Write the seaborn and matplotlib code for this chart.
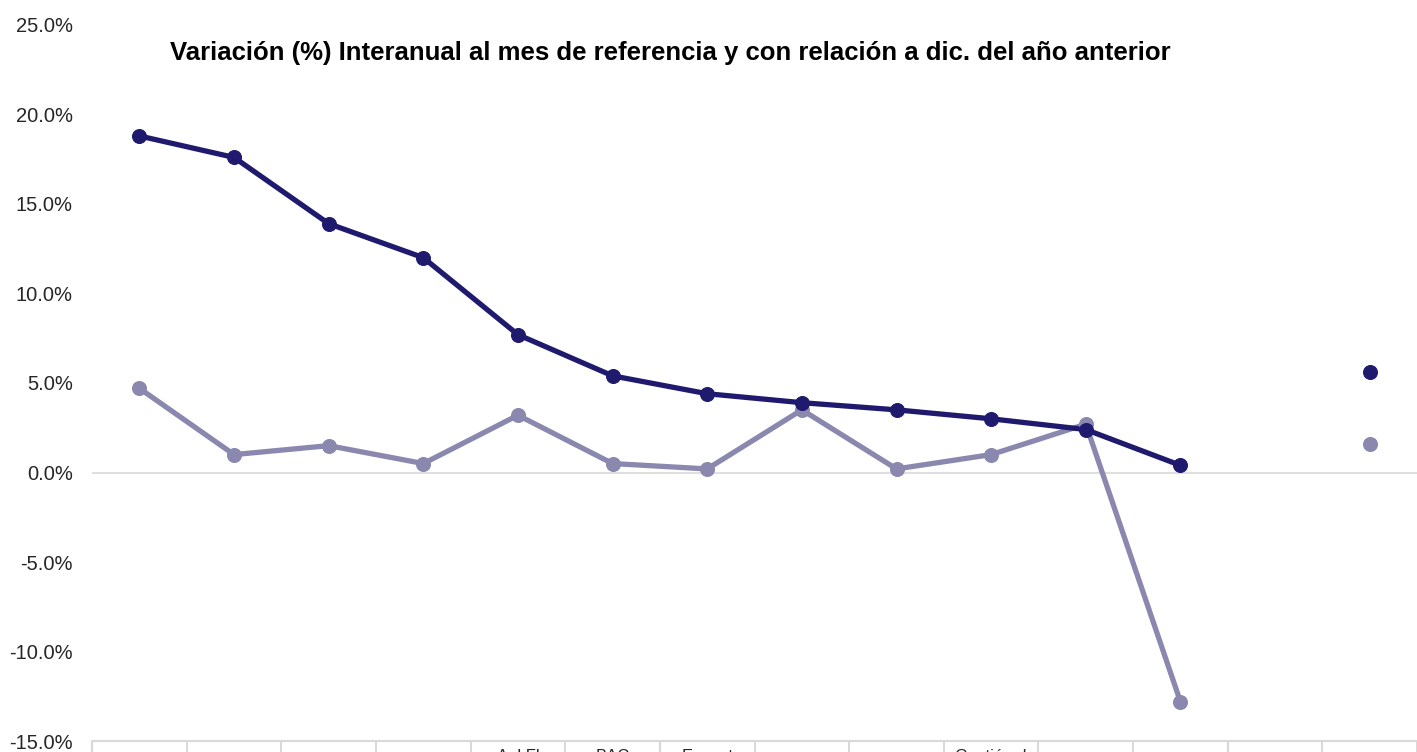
import numpy as np
import pandas as pd
import matplotlib
matplotlib.use("Agg")
import matplotlib.pyplot as plt
import seaborn as sns

# Data (values in %)
categories = ["", "", "", "", "Apl Fl", "BAC", "Ecopet", "", "", "Gestión d", "", "", "", ""]
interanual = [18.8, 17.6, 13.9, 12.0, 7.7, 5.4, 4.4, 3.9, 3.5, 3.0, 2.4, 0.4, np.nan, 5.6]
vs_dic = [4.7, 1.0, 1.5, 0.5, 3.2, 0.5, 0.2, 3.5, 0.2, 1.0, 2.7, -12.8, np.nan, 1.6]

DARK = "#1F1A6E"
LIGHT = "#8A88AE"

sns.set_style("white")
plt.rcParams["font.family"] = ["Liberation Sans", "DejaVu Sans"]

df = pd.DataFrame({
    "x": np.arange(len(categories)),
    "interanual": interanual,
    "vs_dic": vs_dic,
})
lines = df.iloc[:12]

fig = plt.figure(figsize=(14.17, 7.52), dpi=100)
ax = fig.add_axes([0.065, 0.0146, 0.935, 0.9522])

ax.axhline(0, color="#D9D9D9", linewidth=1.2, zorder=0)

for col, color in [("vs_dic", LIGHT), ("interanual", DARK)]:
    sns.lineplot(data=lines, x="x", y=col, color=color, linewidth=3.8, ax=ax)
    sns.scatterplot(data=df.dropna(), x="x", y=col, color=color, s=100,
                    edgecolor=color, ax=ax, zorder=3)

ax.set_xlim(-0.5, 13.5)
ax.set_ylim(-15, 25)
ax.set_yticks(np.arange(-15, 26, 5))
ax.set_yticklabels([f"{v:.1f}%" for v in np.arange(-15, 26, 5)], fontsize=14.5)
ax.tick_params(axis="y", length=0, pad=14)

ax.set_xticks(df["x"])
ax.set_xticklabels(categories, fontsize=12)
ax.tick_params(axis="x", which="major", bottom=False, length=0, pad=6)
ax.set_xticks(np.arange(-0.5, 13.6, 1), minor=True)
ax.tick_params(axis="x", which="minor", bottom=True, length=12, color="#D9D9D9", width=1.5)

for s in ["top", "right", "left"]:
    ax.spines[s].set_visible(False)
ax.spines["bottom"].set_color("#D9D9D9")
ax.spines["bottom"].set_linewidth(1.5)
ax.set_xlabel("")
ax.set_ylabel("")

fig.text(0.473, 0.93, "Variación (%) Interanual al mes de referencia y con relación a dic. del año anterior",
         ha="center", va="center", fontsize=18.5, fontweight="bold", color="black")

fig.savefig("out.png", dpi=100)
